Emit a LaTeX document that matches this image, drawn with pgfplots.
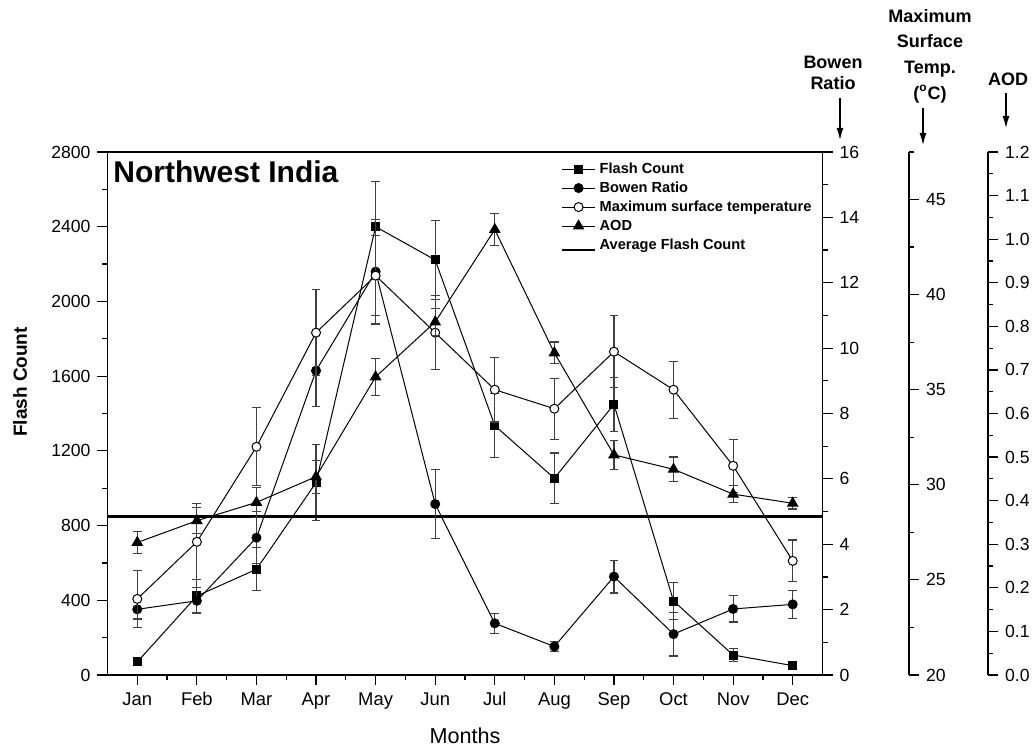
\documentclass[border=0pt]{standalone}
\usepackage{pgfplots}
\pgfplotsset{compat=1.18}
\usepackage{pgfplotstable}
\usetikzlibrary{arrows.meta}
\usepackage{fontspec}
\setmainfont{Liberation Sans}

\pgfplotstableread{
m  fc    fce  br     bre   ts    tse   aod    aode
1  70    10   2.01   0.30  24.0  1.5   0.304  0.026
2  423   90   2.27   0.40  27.0  2.0   0.354  0.030
3  566   115  4.20   0.80  32.0  2.05  0.396  0.034
4  1030  205  9.31   1.10  38.0  2.25  0.455  0.038
5  2400  240  12.34  1.60  41.0  2.1   0.684  0.042
6  2222  210  5.23   1.05  38.0  1.95  0.810  0.031
7  1335  170  1.58   0.31  35.0  1.7   1.022  0.037
8  1053  135  0.87   0.15  34.0  1.6   0.739  0.025
9  1449  145  3.01   0.50  37.0  1.9   0.505  0.033
10 396   100  1.25   0.67  35.0  1.5   0.472  0.028
11 107   35   2.02   0.40  31.0  1.4   0.415  0.019
12 50    10   2.16   0.43  26.0  1.1   0.394  0.013
}\data

\pgfplotsset{
  base/.style={scale only axis, width=357.5pt, height=261.5pt, xmin=0.5, xmax=12.5,
    tick style={black, line width=0.6pt}, major tick length=5pt, minor tick length=2.5pt,
    tick align=outside, ticklabel style={font=\fontsize{8.8}{10}\selectfont},
    axis line style={line width=0.7pt},
    /pgf/number format/assume math mode=true,
    /pgf/number format/1000 sep={}},
  ser/.style={black, line width=0.5pt,
    error bars/y dir=both, error bars/y explicit,
    error bars/error bar style={black!75, line width=0.6pt},
    error bars/error mark options={rotate=90, mark size=2.2pt, black!75, line width=0.6pt}},
}

\begin{document}
\begin{tikzpicture}
\useasboundingbox (-53.75pt,-36.5pt) rectangle (463.75pt,337.5pt);

% main axis: flash count
\begin{axis}[base, name=main, ymin=0, ymax=2800, ytick distance=400, minor y tick num=1,
  xtick={1,...,12}, xticklabels={Jan,Feb,Mar,Apr,May,Jun,Jul,Aug,Sep,Oct,Nov,Dec},
  xticklabel style={font=\fontsize{9.2}{10}\selectfont, text height=6.7pt, text depth=1.9pt},
  minor x tick num=1, xtick pos=left, ytick pos=left,
  legend style={at={(axis description cs:0.626,0.992)}, anchor=north west, draw=none, fill=none,
    font=\bfseries\fontsize{7.3}{8}\selectfont, cells={anchor=west}, row sep=1pt, column sep=1pt,
    nodes={inner sep=1pt, text height=5.3pt, text depth=1.2pt}},
  legend image code/.code={\draw[mark repeat=2,mark phase=2,#1] plot coordinates {(0pt,0pt) (8.25pt,0pt) (16.5pt,0pt)};},
]
\addplot[ser, mark=square*, mark size=2pt, mark options={fill=black, solid}]
  table[x=m, y=fc, y error=fce]{\data};
\addlegendentry{Flash Count}
\addlegendimage{black, line width=0.5pt, mark=*, mark size=2.25pt, mark options={fill=black}}
\addlegendentry{Bowen Ratio}
\addlegendimage{black, line width=0.5pt, mark=*, mark size=2.25pt, mark options={fill=white}}
\addlegendentry{Maximum surface temperature}
\addlegendimage{black, line width=0.5pt, mark=triangle*, mark size=2.9pt, mark options={fill=black}}
\addlegendentry{AOD}
\addplot[black, line width=1.65pt,
  legend image code/.code={\draw[black, line width=0.6pt] (0pt,-2.5pt) -- (16.5pt,-2.5pt);}]
  coordinates {(0.5,850) (12.5,850)};
\addlegendentry{Average Flash Count}
\end{axis}

% Bowen ratio axis (right)
\begin{axis}[base, ymin=0, ymax=16, axis y line*=right, hide x axis, ytick distance=2, minor y tick num=1]
\addplot[ser, mark=*, mark size=2.25pt, mark options={fill=black, solid}]
  table[x=m, y=br, y error=bre]{\data};
\end{axis}

% temperature data
\begin{axis}[base, ymin=20, ymax=47.5, hide x axis, hide y axis]
\addplot[ser, mark=*, mark size=2.25pt, mark options={fill=white, draw=black, solid}]
  table[x=m, y=ts, y error=tse]{\data};
\end{axis}

% AOD data
\begin{axis}[base, ymin=0, ymax=1.2, hide x axis, hide y axis]
\addplot[ser, mark=triangle*, mark size=2.9pt, mark options={fill=black, solid}]
  table[x=m, y=aod, y error=aode]{\data};
\end{axis}

% temperature scale
\begin{axis}[base, at={(43.25pt,0pt)}, ymin=20, ymax=47.5, axis y line*=right, hide x axis,
  ytick={20,25,...,45}, minor ytick={22.5,27.5,...,47.5}]
\end{axis}

% AOD scale
\begin{axis}[base, at={(82.75pt,0pt)}, ymin=0, ymax=1.2, axis y line*=right, hide x axis,
  ytick={0,0.1,...,1.2}, minor ytick={0.05,0.15,...,1.15},
  yticklabel style={/pgf/number format/fixed, /pgf/number format/fixed zerofill, /pgf/number format/precision=1}]
\end{axis}

% annotations
\node[anchor=base west, inner sep=0, font=\bfseries\fontsize{15}{18}\selectfont] at (2.75pt,246pt) {Northwest India};
\node[rotate=90, font=\bfseries\fontsize{9.5}{11}\selectfont] at (-43.75pt,146.5pt) {Flash Count};
\node[inner sep=0pt, font=\fontsize{10.8}{12}\selectfont] at (178.75pt,-30.5pt) {Months};

\node[align=center, font=\bfseries\fontsize{9}{10.5}\selectfont] at (362.75pt,301.25pt) {Bowen\\Ratio};
\draw[line width=0.6pt, -{Latex[length=6pt,width=3.5pt]}] (366.25pt,288.5pt) -- (366.25pt,267.5pt);

\node[align=center, font=\bfseries\fontsize{9}{12.8}\selectfont] at (411.25pt,309.5pt) {Maximum\\Surface\\Temp.\\(\textsuperscript{o}C)};
\draw[line width=0.6pt, -{Latex[length=6pt,width=3.5pt]}] (407.75pt,283.5pt) -- (407.75pt,265pt);

\node[font=\bfseries\fontsize{9}{10.5}\selectfont] at (450.25pt,298pt) {AOD};
\draw[line width=0.6pt, -{Latex[length=6pt,width=3.5pt]}] (449.25pt,291pt) -- (449.25pt,273.5pt);
\end{tikzpicture}
\end{document}
